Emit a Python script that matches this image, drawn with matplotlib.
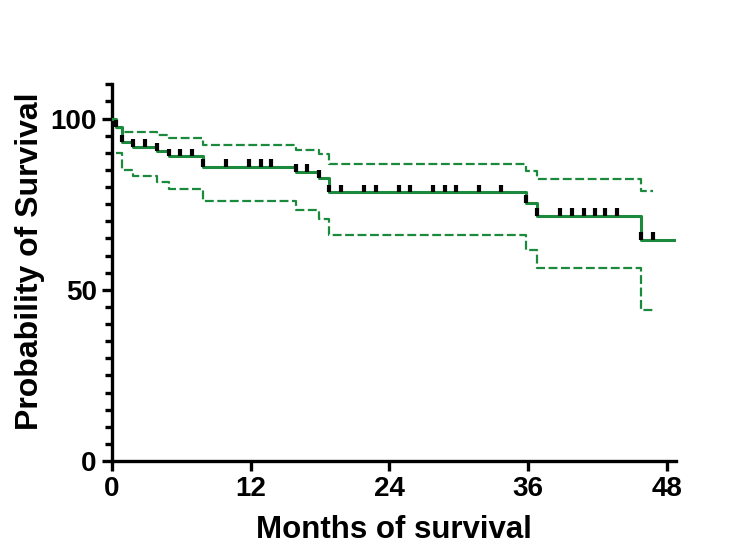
import numpy as np
import matplotlib
matplotlib.use("Agg")
import matplotlib.pyplot as plt
from matplotlib.ticker import MultipleLocator

# Kaplan-Meier estimate (months, percent)
times = [0, 0.35, 0.9, 1.8, 3.9, 4.9, 7.9, 15.9, 17.9, 18.8, 35.8, 36.8, 45.8]
surv = [100, 97.5, 93.1, 91.8, 90.6, 89.0, 85.9, 84.5, 82.7, 78.5, 75.5, 71.7, 64.6]
upper = [np.nan, 97.2, 96.0, 96.0, 95.2, 94.3, 92.3, 90.9, 89.7, 86.8, 84.8, 82.4, 79.0]
lower = [np.nan, 90.0, 85.0, 83.1, 81.4, 79.5, 75.8, 73.4, 70.8, 65.9, 61.6, 56.5, 44.1]
surv_end = 48.75   # last follow-up of the curve
ci_end = 46.8      # confidence band stops here

# censored subjects (tick marks)
censored = [0.35, 0.9, 1.8, 2.9, 3.9, 4.9, 5.9, 6.9, 7.9, 9.9, 11.85, 12.9, 13.8,
            15.9, 16.85, 17.9, 18.8, 19.8, 21.8, 22.85, 24.8, 25.8, 27.8, 28.8,
            29.8, 31.8, 33.7, 35.8, 36.8, 38.8, 39.8, 40.8, 41.8, 42.7, 43.7,
            45.8, 46.8]

green = "#1b8a3d"

plt.rcParams['font.family'] = ['Liberation Sans', 'DejaVu Sans']
plt.rcParams['font.weight'] = 'bold'

fig = plt.figure(figsize=(7.5, 5.58), dpi=100)
ax = fig.add_axes([0.1493, 0.1738, 0.7520, 0.675])

t_s = np.append(times, surv_end)
s_s = np.append(surv, surv[-1])
ax.step(t_s, s_s, where='post', color=green, lw=2.2, zorder=3)

t_c = np.append(times, ci_end)
for band in (upper, lower):
    b = np.append(band, band[-1])
    ax.step(t_c, b, where='post', color=green, lw=1.6, dashes=(4, 1.6), zorder=2)

# censor ticks sit on top of the curve
t_arr = np.array(times)
idx = np.searchsorted(t_arr, censored, side='right') - 1
lev = np.array(surv)[idx]
ax.vlines(censored, lev, lev + 2.2, colors='black', lw=3.0, zorder=4)

ax.set_xlim(0, 48.8)
ax.set_ylim(0, 110)
ax.set_xticks([0, 12, 24, 36, 48])
ax.set_yticks([0, 50, 100])
ax.yaxis.set_minor_locator(MultipleLocator(5))

for side in ('top', 'right'):
    ax.spines[side].set_visible(False)
for side in ('left', 'bottom'):
    ax.spines[side].set_linewidth(2.4)
    ax.spines[side].set_capstyle('projecting')

ax.tick_params(axis='both', which='major', length=7, width=2.4, labelsize=20, pad=4)
ax.tick_params(axis='y', which='minor', length=5, width=2.4)

ax.set_xlabel("Months of survival", fontsize=22.5, fontweight='bold', labelpad=9)
ax.set_ylabel("Probability of Survival", fontsize=23, fontweight='bold')
ax.yaxis.set_label_coords(-0.118, 0.53)

fig.savefig("out.png", dpi=100)
